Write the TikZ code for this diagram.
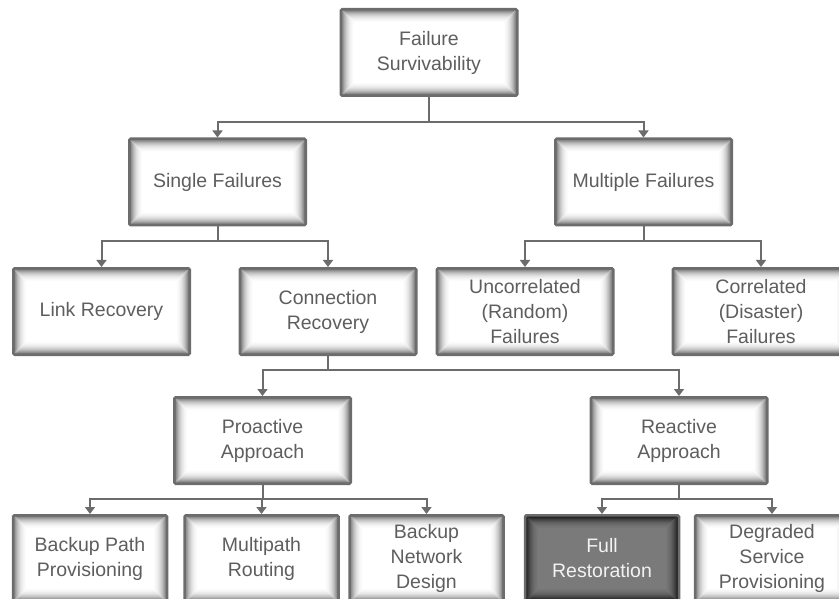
\documentclass[tikz,border=0pt]{standalone}
\usepackage{fontspec}
\setmainfont{Liberation Sans}
\usetikzlibrary{arrows.meta}

\definecolor{edgegray}{HTML}{6C6C6C}
\definecolor{labelgray}{HTML}{5E5E5E}
\definecolor{darkfill}{HTML}{7A7A7A}

% inner glow of a box, drawn inside its own path (#1 = strength)
\newcommand{\innerglow}[1]{%
  \foreach \i/\o in {0/0.55,1/0.45,2/0.37,3/0.30,4/0.24,5/0.19,6/0.15,7/0.11,8/0.08,9/0.06,10/0.04,11/0.025,12/0.015}{%
    \draw[black,opacity={min(1,#1*\o)},line width=1.2pt]
      ([shift={(\i pt,-\i pt)}]path picture bounding box.north west) rectangle
      ([shift={(-\i pt,\i pt)}]path picture bounding box.south east);}}

\tikzstyle{box} = [rectangle,draw=edgegray,line width=2.5pt,rounded corners=1.5pt,
  fill=white,minimum height=86.5pt,align=center,text=labelgray,
  font=\fontsize{19.5}{25}\selectfont,path picture={\innerglow{1}}]
\tikzstyle{wide} = [box,minimum width=176.5pt]
\tikzstyle{leaf} = [box,minimum width=154pt]
\tikzstyle{dark} = [leaf,fill=darkfill,text=white!95!black,path picture={\innerglow{1.7}}]
\tikzstyle{conn} = [draw=edgegray,line width=2pt,-{Triangle[width=10pt,length=7pt]}]

\begin{document}
\begin{tikzpicture}[x=1pt,y=-1pt]
	\useasboundingbox (0,0) rectangle (839,599);
	% top
	\node[wide] (fs) at (429,52.5) {Failure\\Survivability};
	% kinds of failure
	\node[wide] (sf) at (217.5,182) {Single Failures};
	\node[wide] (mf) at (643.5,182) {Multiple Failures};
	\node[wide] (lr) at (101.5,311.5) {Link Recovery};
	\node[wide] (cr) at (328,311.5) {Connection\\Recovery};
	\node[wide] (ur) at (525,311.5) {Uncorrelated\\(Random)\\Failures};
	\node[wide] (cd) at (761,311.5) {Correlated\\(Disaster)\\Failures};
	% approaches
	\node[wide] (pa) at (262.5,440.5) {Proactive\\Approach};
	\node[wide] (ra) at (679,440.5) {Reactive\\Approach};
	\node[leaf] (bp) at (90,558.5) {Backup Path\\Provisioning};
	\node[leaf] (mp) at (261.5,558.5) {Multipath\\Routing};
	\node[leaf] (bn) at (426.5,558.5) {Backup\\Network\\Design};
	\node[dark] (fr) at (602,558.5) {Full\\Restoration};
	\node[leaf] (dg) at (772,558.5) {Degraded\\Service\\Provisioning};
	% connectors
	\draw[conn] (fs.south) -- ++(0,25) -| (sf.north);
	\draw[conn] (fs.south) -- ++(0,25) -| (mf.north);
	\draw[conn] (sf.south) -- ++(0,15) -| (lr.north);
	\draw[conn] (sf.south) -- ++(0,15) -| (cr.north);
	\draw[conn] (mf.south) -- ++(0,15) -| (ur.north);
	\draw[conn] (mf.south) -- ++(0,15) -| (cd.north);
	\draw[conn] (cr.south) -- ++(0,14) -| (pa.north);
	\draw[conn] (cr.south) -- ++(0,14) -| (ra.north);
	\draw[conn] (pa.south) -- ++(0,14) -| (bp.north);
	\draw[conn] (pa.south) -- ++(0,14) -| (mp.north);
	\draw[conn] (pa.south) -- ++(0,14) -| (bn.north);
	\draw[conn] (ra.south) -- ++(0,14) -| (fr.north);
	\draw[conn] (ra.south) -- ++(0,14) -| (dg.north);
\end{tikzpicture}
\end{document}
